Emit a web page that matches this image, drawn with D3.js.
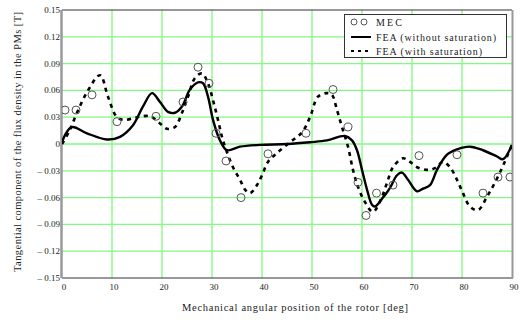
<!DOCTYPE html>
<html><head><meta charset="utf-8">
<script src="https://cdn.jsdelivr.net/npm/d3@7"></script>
<style>body{margin:0;background:#fff}svg{display:block}text{font-family:"Liberation Serif","DejaVu Serif",serif;fill:#222}</style>
</head><body><div id="c"></div>
<script>
const xTicks=[0,10,20,30,40,50,60,70,80,90];
const yTicks=[-0.15,-0.12,-0.09,-0.06,-0.03,0,0.03,0.06,0.09,0.12,0.15];
const legendLabels=["MEC","FEA (without saturation)","FEA (with saturation)"];
const mecX=[0.6,2.8,6,11,18.8,24.2,27.2,29.4,30.8,32.8,35.8,41.2,48.8,54.2,57.2,59.2,60.8,62.9,66.2,71.4,79,84.2,87.2,89.6];
const mecY=[0.038,0.038,0.055,0.025,0.031,0.047,0.086,0.068,0.012,-0.019,-0.060,-0.011,0.012,0.061,0.019,-0.043,-0.080,-0.055,-0.046,-0.013,-0.012,-0.055,-0.037,-0.037];
const fea1X=[0,0.6,2,5,9,11.6,14.2,16.2,18,19.6,21.2,22.6,24,25.6,27.2,28.2,29.2,30.2,31.6,33,35.6,39.6,45,49.6,53,56.6,58,59,60,61,62,62.6,64.2,65.6,67,68,69.2,71,72.2,73.6,75,77,79,81.6,84.2,87,88.2,90];
const fea1Y=[0.001,0.010,0.019,0.012,0.005,0.008,0.021,0.042,0.057,0.047,0.036,0.035,0.042,0.061,0.069,0.068,0.053,0.027,0.004,-0.007,-0.003,-0.001,0.000,0.002,0.004,0.009,0.004,-0.007,-0.029,-0.051,-0.068,-0.070,-0.060,-0.049,-0.035,-0.032,-0.040,-0.053,-0.050,-0.046,-0.029,-0.012,-0.006,-0.003,-0.007,-0.014,-0.017,-0.001];
const fea2X=[0,1.5,3,5,7.6,9.2,11,12.6,15,17.6,19.6,21,22.6,24,25.2,26.6,28,29.2,30.2,31.2,32.2,34.2,35.6,36.6,37.6,39,40,41.2,43,45.6,48,49.6,51.2,53,54,55,56,57.2,58.2,59.2,60.6,62.2,64,65.2,66.2,68.2,69.6,71,73,74.6,76.2,77.6,79,80.2,81.6,83.2,85,86.6,88,89,90];
const fea2Y=[0.000,0.015,0.035,0.058,0.077,0.053,0.030,0.027,0.030,0.031,0.023,0.017,0.019,0.035,0.053,0.074,0.079,0.068,0.049,0.027,0.004,-0.026,-0.040,-0.051,-0.055,-0.046,-0.035,-0.020,-0.010,0.002,0.013,0.030,0.053,0.057,0.055,0.038,0.019,-0.003,-0.029,-0.048,-0.065,-0.076,-0.059,-0.040,-0.026,-0.016,-0.020,-0.026,-0.029,-0.027,-0.020,-0.026,-0.040,-0.055,-0.070,-0.074,-0.059,-0.043,-0.027,-0.014,-0.001];

const W=527,H=322,L=62,R=512,T=10,B=278;
const svg=d3.select("#c").append("svg").attr("width",W).attr("height",H);
const x=d3.scaleLinear().domain([0,90]).range([L,R]);
const y=d3.scaleLinear().domain([-0.15,0.15]).range([B,T]);
const grid="#80fa80";
svg.append("g").selectAll("line").data(xTicks.slice(1,-1)).join("line")
 .attr("x1",d=>x(d)).attr("x2",d=>x(d)).attr("y1",T).attr("y2",B).attr("stroke",grid).attr("stroke-width",1.3);
svg.append("g").selectAll("line").data(yTicks.slice(1,-1)).join("line")
 .attr("y1",d=>y(d)).attr("y2",d=>y(d)).attr("x1",L).attr("x2",R).attr("stroke",grid).attr("stroke-width",1.3);
// frame
svg.append("line").attr("x1",L).attr("x2",R).attr("y1",T).attr("y2",T).attr("stroke","#333").attr("stroke-width",1);
svg.append("line").attr("x1",L).attr("x2",R+1).attr("y1",B).attr("y2",B).attr("stroke","#333").attr("stroke-width",1.2);
svg.append("line").attr("x1",L-0.5).attr("x2",L-0.5).attr("y1",T).attr("y2",B).attr("stroke","#999").attr("stroke-width",2.5);
svg.append("line").attr("x1",R+0.5).attr("x2",R+0.5).attr("y1",T).attr("y2",B).attr("stroke","#999").attr("stroke-width",2);
// axes labels
const fmtY=d=>{if(Math.abs(d)<1e-9)return "0";const s=Math.abs(d).toFixed(2);return d<0?"\u2013 "+s:s;};
svg.append("g").selectAll("text").data(yTicks).join("text")
 .attr("x",L-2).attr("y",d=>y(d)+3).attr("text-anchor","end").attr("font-size",9).text(fmtY);
svg.append("g").selectAll("text").data(xTicks).join("text")
 .attr("x",d=>x(d)+2).attr("y",B+12).attr("text-anchor","middle").attr("font-size",9).text(d=>d);
svg.append("text").attr("x",182).attr("y",311).attr("font-size",10.5)
 .attr("textLength",226).attr("lengthAdjust","spacing")
 .text("Mechanical angular position of the rotor [deg]");
svg.append("text").attr("transform","translate(21,272) rotate(-90)").attr("font-size",10.5)
 .attr("textLength",260).attr("lengthAdjust","spacing")
 .text("Tangential component of the flux density in the PMs [T]");
// lines
svg.append("clipPath").attr("id","cp").append("rect").attr("x",L).attr("y",T).attr("width",R-L).attr("height",B-T);
const line=d3.line().x(d=>x(d[0])).y(d=>y(d[1])).curve(d3.curveCatmullRom.alpha(0.5));
const g=svg.append("g").attr("clip-path","url(#cp)");
g.append("path").datum(fea2X.map((v,i)=>[v,fea2Y[i]])).attr("d",line).attr("fill","none").attr("stroke","#000").attr("stroke-width",2.6).attr("stroke-dasharray","4,4.5");
g.append("path").datum(fea1X.map((v,i)=>[v,fea1Y[i]])).attr("d",line).attr("fill","none").attr("stroke","#000").attr("stroke-width",2.4);
g.selectAll("circle").data(mecX.map((v,i)=>[v,mecY[i]])).join("circle")
 .attr("cx",d=>x(d[0])).attr("cy",d=>y(d[1])).attr("r",4).attr("fill","none").attr("stroke","#555").attr("stroke-width",1);
// legend
const lg=svg.append("g");
lg.append("rect").attr("x",344.5).attr("y",14.5).attr("width",162).attr("height",43).attr("fill","#fff").attr("stroke","#333").attr("stroke-width",1);
const ly=[22,37,51];
const lw=[26,120,106];
lg.append("circle").attr("cx",354).attr("cy",ly[0]).attr("r",3).attr("fill","none").attr("stroke","#555");
lg.append("circle").attr("cx",364).attr("cy",ly[0]).attr("r",3).attr("fill","none").attr("stroke","#555");
lg.append("line").attr("x1",351).attr("x2",371).attr("y1",ly[1]).attr("y2",ly[1]).attr("stroke","#000").attr("stroke-width",2);
lg.append("line").attr("x1",351).attr("x2",371).attr("y1",ly[2]).attr("y2",ly[2]).attr("stroke","#000").attr("stroke-width",2).attr("stroke-dasharray","3,4");
lg.selectAll("text").data(legendLabels).join("text").attr("x",376).attr("y",(d,i)=>ly[i]+3.5).attr("font-size",10)
 .attr("textLength",(d,i)=>lw[i]).attr("lengthAdjust","spacing").text(d=>d);
</script></body></html>
